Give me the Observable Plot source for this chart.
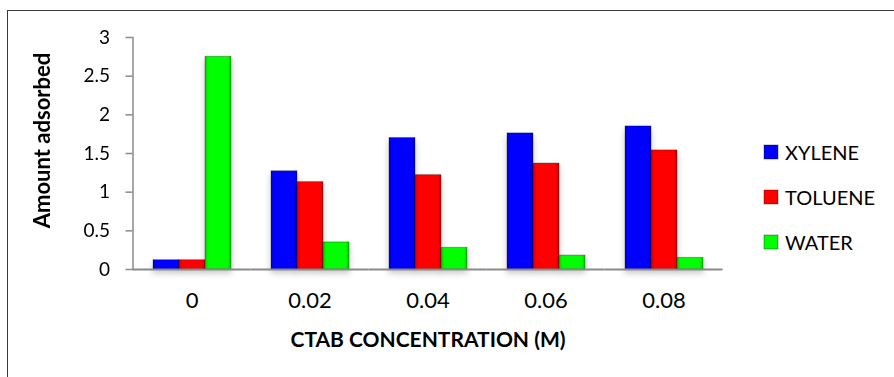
<!DOCTYPE html>
<html>
<head>
<meta charset="utf-8">
<script src="https://cdn.jsdelivr.net/npm/d3@7"></script>
<script src="https://cdn.jsdelivr.net/npm/@observablehq/plot@0.6"></script>
<style>
  html, body { margin: 0; padding: 0; background: #fff; }
  #wrap { position: relative; width: 894px; height: 377px; overflow: hidden; font-family: Lato, sans-serif; }
  #frame { position: absolute; left: 7px; top: 10px; right: -5px; bottom: -5px;
           border-top: 1.5px solid #3c3c3c; border-left: 1.5px solid #3c3c3c; pointer-events: none; }
  #chart { position: absolute; left: 0; top: 0; }
  #legend { position: absolute; left: 764px; top: 129px; }
  .lg-swatches { display: flex !important; flex-direction: column !important; align-items: flex-start !important;
                 font-family: Lato, sans-serif !important; font-size: 20px !important; color: #000 !important; margin: 0 !important; }
  .lg-swatch { display: flex !important; align-items: center !important; height: 45px; margin: 0 !important; }
  .lg-swatch > svg { margin-right: 7px !important; }
  .lg-swatch rect { stroke: rgba(0,0,0,0.35); stroke-width: 1px; }
  #chart g[aria-label="bar"] { filter: drop-shadow(0px 4px 3px rgba(0,0,0,0.22)); }
</style>
</head>
<body>
<div id="wrap">
  <div id="chart"></div>
  <div id="legend"></div>
  <div id="frame"></div>
</div>
<svg width="0" height="0" style="position:absolute">
  <defs>
    <linearGradient id="bevel" x1="0" y1="0" x2="1" y2="0">
      <stop offset="0" stop-color="#000" stop-opacity="0.22"/>
      <stop offset="0.12" stop-color="#000" stop-opacity="0"/>
      <stop offset="0.88" stop-color="#000" stop-opacity="0"/>
      <stop offset="1" stop-color="#000" stop-opacity="0.22"/>
    </linearGradient>
  </defs>
</svg>
<script>
// ---- data ----
const concentrations = ["0", "0.02", "0.04", "0.06", "0.08"];
const series = ["XYLENE", "TOLUENE", "WATER"];
const xylene  = [0.12, 1.27, 1.70, 1.76, 1.85];
const toluene = [0.12, 1.13, 1.22, 1.37, 1.54];
const water   = [2.75, 0.35, 0.28, 0.18, 0.15];
const yTicks = [0, 0.5, 1, 1.5, 2, 2.5, 3];
const colors = ["#0000ff", "#ff0000", "#00ff00"];
const xTitle = "CTAB CONCENTRATION (M)";
const yTitle = "Amount adsorbed";

const valuesBySeries = [xylene, toluene, water];
const rows = concentrations.flatMap((c, i) =>
  series.map((s, j) => ({c, s, v: valuesBySeries[j][i]}))
);

const W = 894, H = 377, mL = 132, mR = 171, mT = 37, mB = 108;
const padInner = 0.33, padOuter = padInner / 2;
const step = (W - mL - mR) / concentrations.length;
// the y axis sits on the plot-area edge, left of the first facet's outer padding
const axisShift = -step * padOuter;
const halfGap = step * padInner / 2;

const chart = Plot.plot({
  width: W,
  height: H,
  marginLeft: mL,
  marginRight: mR,
  marginTop: mT,
  marginBottom: mB,
  style: {fontFamily: "Lato, sans-serif", color: "#000", background: "transparent", overflow: "visible"},
  fx: {domain: concentrations, paddingInner: padInner, paddingOuter: padOuter, label: null},
  x: {domain: series, padding: 0, axis: null},
  y: {domain: [0, 3], axis: null},
  color: {domain: series, range: colors},
  marks: [
    Plot.barY(rows, {fx: "c", x: "s", y: "v", fill: "s", stroke: "#000", strokeOpacity: 0.3, strokeWidth: 1}),
    Plot.barY(rows, {fx: "c", x: "s", y: "v", fill: "url(#bevel)"}),
    Plot.ruleY([0], {stroke: "#8a8a8a", strokeWidth: 2, insetLeft: -halfGap, insetRight: -halfGap}),
    Plot.frame({anchor: "left", facetAnchor: "left", dx: axisShift, stroke: "#8a8a8a", strokeWidth: 1.5}),
    Plot.axisY({ticks: yTicks, tickFormat: d => String(d), tickSize: 7, tickPadding: 16, dx: axisShift,
                stroke: "#8a8a8a", strokeWidth: 1.5, fill: "#000", fontSize: 19, label: null}),
    Plot.axisFx({anchor: "bottom", tickSize: 0, tickPadding: 23, fontSize: 22, fill: "#000", label: null}),
    Plot.text([xTitle], {facet: "super", frameAnchor: "bottom", lineAnchor: "middle", dy: 71,
                         fontSize: 21, fontWeight: "bold", fill: "#000"}),
    Plot.text([yTitle], {facetAnchor: "left", frameAnchor: "left", textAnchor: "middle", lineAnchor: "middle",
                         dx: axisShift - 90, dy: -13, rotate: -90, fontSize: 22, fontWeight: "bold", fill: "#000"})
  ]
});
document.getElementById("chart").appendChild(chart);

const legend = Plot.legend({
  color: {domain: series, range: colors},
  legend: "swatches",
  swatchSize: 14,
  className: "lg"
});
document.getElementById("legend").appendChild(legend);
</script>
</body>
</html>
